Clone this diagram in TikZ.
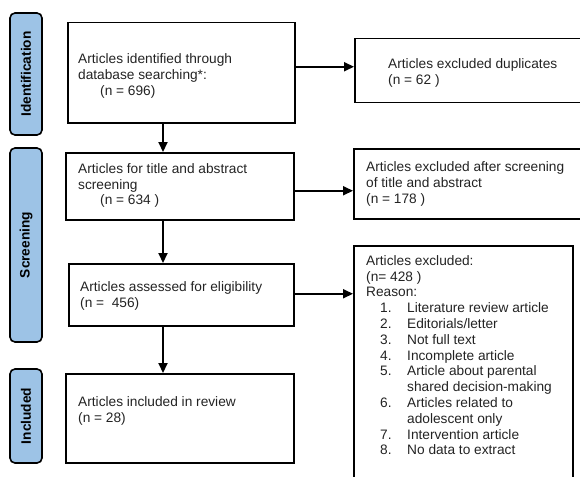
\documentclass[tikz,border=0pt]{standalone}
\usepackage{fontspec}
\setmainfont{Liberation Sans}
\usetikzlibrary{arrows.meta}
\definecolor{barblue}{RGB}{157,195,230}
\definecolor{inkgray}{RGB}{35,35,35}
\newcommand{\reason}[2]{\hspace*{14pt}\makebox[27pt][l]{#1}#2}
\tikzset{
  stagebar/.style={draw, line width=1.6pt, fill=barblue, rounded corners=5pt,
    rotate=90, inner sep=0pt, font=\fontsize{13.7}{15.8}\selectfont\bfseries},
  flowbox/.style={draw, line width=1.5pt, anchor=north west, inner sep=0pt},
  boxtext/.style={anchor=north west, inner sep=0pt, align=left, text=inkgray,
    font=\fontsize{13.7}{15.8}\selectfont},
  flow/.style={line width=2pt, -{Triangle[length=10pt,width=9pt]}}
}
\begin{document}
\begin{tikzpicture}[x=1pt, y=-1pt]
  \useasboundingbox (0,0) rectangle (580,476);
  \clip (0,0) rectangle (580,476);
  % stages
  \node[stagebar, minimum width=122pt, minimum height=32pt] (idbar) at (26,74) {Identification};
  \node[stagebar, minimum width=194pt, minimum height=32pt] (scbar) at (26,245) {Screening};
  \node[stagebar, minimum width=94pt, minimum height=32pt] (inbar) at (26,416) {Included};
  % main column
  \node[flowbox, minimum width=227pt, minimum height=100pt] (ident) at (67,22) {};
  \node[flowbox, minimum width=228pt, minimum height=67pt] (screen) at (65,152) {};
  \node[flowbox, minimum width=225pt, minimum height=62pt] (elig) at (68,263) {};
  \node[flowbox, minimum width=228pt, minimum height=89pt] (incl) at (65,373) {};
  % exclusions
  \node[flowbox, minimum width=230pt, minimum height=64pt] (dup) at (354,38) {};
  \node[flowbox, minimum width=231pt, minimum height=70pt] (exta) at (353,148) {};
  \node[flowbox, minimum width=219pt, minimum height=240pt] (extb) at (353,245) {};
  % texts
  \node[boxtext] (identtxt) at (78,53.2) {Articles identified through\\database searching*:\\[0.2pt]\hspace*{22pt}(n = 696)};
  \node[boxtext] (screentxt) at (78,163.2) {Articles for title and abstract\\screening\\\hspace*{22pt}(n = 634 )};
  \node[boxtext] (eligtxt) at (80,281.6) {Articles assessed for eligibility\\(n =\ \ 456)};
  \node[boxtext] (incltxt) at (78,396.6) {Articles included in review\\(n = 28)};
  \node[boxtext] (duptxt) at (388,58.2) {Articles excluded duplicates\\(n = 62 )};
  \node[boxtext] (extatxt) at (366,161.6) {Articles excluded after screening\\of title and abstract\\(n =\ 178 )};
  \node[boxtext] (extbtxt) at (366,255.1) {Articles excluded:\\(n= 428 )\\Reason:\\
    \reason{1.}{Literature review article}\\
    \reason{2.}{Editorials/letter}\\
    \reason{3.}{Not full text}\\
    \reason{4.}{Incomplete article}\\
    \reason{5.}{Article about parental}\\
    \reason{}{shared decision-making}\\
    \reason{6.}{Articles related to}\\
    \reason{}{adolescent only}\\
    \reason{7.}{Intervention article}\\
    \reason{8.}{No data to extract}};
  \coordinate (spine) at (163,0);
  \begin{scope}[flow]
    \draw (ident.south -| spine) -- (screen.north -| spine);
    \draw (screen.south -| spine) -- (elig.north -| spine);
    \draw (elig.south -| spine) -- (incl.north -| spine);
    \draw ([yshift=6pt]ident.east) -- ([yshift=6pt]ident.east -| dup.west);
    \draw ([yshift=-4.5pt]screen.east) -- ([yshift=-4.5pt]screen.east -| exta.west);
    \draw ([yshift=1pt]elig.east) -- ([yshift=1pt]elig.east -| extb.west);
  \end{scope}
\end{tikzpicture}
\end{document}
